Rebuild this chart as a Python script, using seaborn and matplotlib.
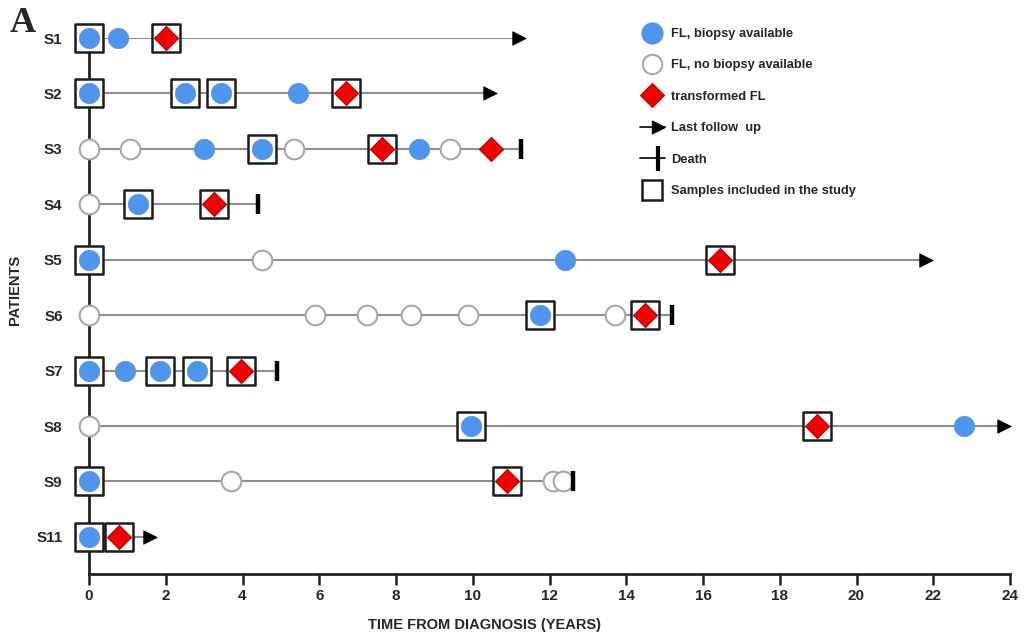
import matplotlib
matplotlib.use("Agg")
import matplotlib.pyplot as plt
import seaborn as sns
import pandas as pd
import numpy as np
from matplotlib.lines import Line2D
from matplotlib.path import Path

# ---------------- data ----------------
patients = ["S1", "S2", "S3", "S4", "S5", "S6", "S7", "S8", "S9", "S11"]
end_time = [11.2, 10.45, 11.25, 4.4, 21.8, 15.2, 4.9, 23.85, 12.6, 1.6]
end_type = ["follow", "follow", "death", "death", "follow",
            "death", "death", "follow", "death", "follow"]

biopsy_patient = ["S1", "S1", "S2", "S2", "S2", "S2", "S3", "S3", "S3", "S4",
                  "S5", "S5", "S6", "S7", "S7", "S7", "S7", "S8", "S8", "S9", "S11"]
biopsy_time = [0.0, 0.75, 0.0, 2.5, 3.45, 5.45, 3.0, 4.5, 8.6, 1.28,
               0.0, 12.4, 11.75, 0.0, 0.94, 1.85, 2.81, 9.95, 22.8, 0.0, 0.0]

nobiopsy_patient = ["S3", "S3", "S3", "S3", "S4", "S5", "S6", "S6", "S6", "S6",
                    "S6", "S6", "S8", "S9", "S9", "S9"]
nobiopsy_time = [0.0, 1.07, 5.35, 9.4, 0.0, 4.5, 0.0, 5.88, 7.24, 8.39,
                 9.87, 13.7, 0.0, 3.7, 12.08, 12.34]

tfl_patient = ["S1", "S2", "S3", "S3", "S4", "S5", "S6", "S7", "S8", "S9", "S11"]
tfl_time = [2.0, 6.7, 7.63, 10.47, 3.25, 16.43, 14.48, 3.96, 18.96, 10.9, 0.78]

sample_patient = ["S1", "S1", "S2", "S2", "S2", "S2", "S3", "S3", "S4", "S4",
                  "S5", "S5", "S6", "S6", "S7", "S7", "S7", "S7", "S8", "S8",
                  "S9", "S9", "S11", "S11"]
sample_time = [0.0, 2.0, 0.0, 2.5, 3.45, 6.7, 4.5, 7.63, 1.28, 3.25,
               0.0, 16.43, 11.75, 14.48, 0.0, 1.85, 2.81, 3.96, 9.95, 18.96,
               0.0, 10.9, 0.0, 0.78]

x_ticks = [0, 2, 4, 6, 8, 10, 12, 14, 16, 18, 20, 22, 24]

legend_labels = ["FL, biopsy available", "FL, no biopsy available", "transformed FL",
                 "Last follow  up", "Death", "Samples included in the study"]

# ---------------- style ----------------
BLUE = "#4F95EE"
RED = "#F00000"
RED_EDGE = "#B40000"
OPEN_EDGE = "#A8A8A8"
LINE_GRAY = "#8E8E8E"

sns.set_style("white")
plt.rcParams["font.family"] = ["Liberation Sans", "DejaVu Sans"]
plt.rcParams["font.weight"] = "bold"

fig = plt.figure(figsize=(10.26, 6.35), dpi=100)
ax = fig.add_axes([89 / 1026, 1 - 574 / 635, 921 / 1026, 536 / 635])

# timeline lines
for p, e in zip(patients, end_time):
    ax.plot([0, e], [p, p], color=LINE_GRAY, lw=1.5, zorder=1, solid_capstyle="butt")

# sample boxes
samp_df = pd.DataFrame({"patient": sample_patient, "time": sample_time})
sns.scatterplot(data=samp_df, x="time", y="patient", marker="s", s=400,
                facecolor="white", edgecolor="#1c1c1c", linewidth=1.8,
                ax=ax, zorder=3, clip_on=False, legend=False)

# biopsy available
bio_df = pd.DataFrame({"patient": biopsy_patient, "time": biopsy_time})
sns.scatterplot(data=bio_df, x="time", y="patient", marker="o", s=215,
                color=BLUE, edgecolor=BLUE, linewidth=0.5,
                ax=ax, zorder=4, clip_on=False, legend=False)

# no biopsy available
nob_df = pd.DataFrame({"patient": nobiopsy_patient, "time": nobiopsy_time})
sns.scatterplot(data=nob_df, x="time", y="patient", marker="o", s=200,
                facecolor="white", edgecolor=OPEN_EDGE, linewidth=1.5,
                ax=ax, zorder=4, clip_on=False, legend=False)

# transformed FL
tfl_df = pd.DataFrame({"patient": tfl_patient, "time": tfl_time})
sns.scatterplot(data=tfl_df, x="time", y="patient", marker="D", s=150,
                color=RED, edgecolor=RED_EDGE, linewidth=0.8,
                ax=ax, zorder=5, clip_on=False, legend=False)

# end markers
end_df = pd.DataFrame({"patient": patients, "time": end_time, "kind": end_type})
sns.scatterplot(data=end_df[end_df["kind"] == "follow"], x="time", y="patient",
                marker=">", s=95, color="black", edgecolor="black", linewidth=0.5,
                ax=ax, zorder=5, clip_on=False, legend=False)
sns.scatterplot(data=end_df[end_df["kind"] == "death"], x="time", y="patient",
                marker="|", s=200, color="black", linewidth=3.2,
                ax=ax, zorder=5, clip_on=False, legend=False)

# axes
ax.set_xlim(0, 24)
ax.set_ylim(len(patients) - 1 + 0.67, 0)
ax.set_xticks(x_ticks)
ax.set_xticklabels([str(t) for t in x_ticks], fontsize=11, fontweight="bold")
ax.set_yticks(range(len(patients)))
ax.set_yticklabels(patients, fontsize=11, fontweight="bold")
ax.tick_params(axis="x", bottom=True, direction="out", length=8, width=1.8,
               color="#222222", pad=3)
ax.tick_params(axis="y", left=False, length=0, pad=19)
for side in ["top", "right"]:
    ax.spines[side].set_visible(False)
for side in ["left", "bottom"]:
    ax.spines[side].set_color("#222222")
    ax.spines[side].set_linewidth(2.0)
    ax.spines[side].set_zorder(2)

ax.set_xlabel("TIME FROM DIAGNOSIS (YEARS)", fontsize=10.5, fontweight="bold")
ax.xaxis.set_label_coords((485 - 89) / 921, -(618 - 574) / 536)
ax.set_ylabel("PATIENTS", fontsize=10.5, fontweight="bold")
ax.yaxis.set_label_coords((22 - 89) / 921, (574 - 290) / 536)

fig.text(10 / 1026, 1 - 24 / 635, "A", fontsize=26, fontweight="bold",
         family=["Liberation Serif", "DejaVu Serif"], va="center", ha="left")

# legend
arrow_path = Path([(0.0, -0.5), (0.0, 0.5), (1.0, 0.0), (0.0, -0.5)],
                  [Path.MOVETO, Path.LINETO, Path.LINETO, Path.CLOSEPOLY])
bar_path = Path([(0.5, -1.0), (0.5, 1.0)], [Path.MOVETO, Path.LINETO])
h_bio = Line2D([], [], ls="none", marker="o", ms=15, mfc=BLUE, mec=BLUE)
h_nob = Line2D([], [], ls="none", marker="o", ms=14, mfc="white", mec=OPEN_EDGE, mew=1.5)
h_tfl = Line2D([], [], ls="none", marker="D", ms=12, mfc=RED, mec=RED_EDGE, mew=0.8)
h_arr = (Line2D([], [], color="black", lw=1.2),
         Line2D([], [], ls="none", marker=arrow_path, ms=18, mfc="black", mec="black"))
h_dth = (Line2D([], [], color="black", lw=1.2),
         Line2D([], [], ls="none", marker=bar_path, ms=18, mec="black", mew=3))
h_box = Line2D([], [], ls="none", marker="s", ms=15, mfc="white", mec="#1c1c1c", mew=1.8)
leg = fig.legend([h_bio, h_nob, h_tfl, h_arr, h_dth, h_box], legend_labels,
                 loc="upper left", bbox_to_anchor=(640 / 1026, 1 - 28 / 635),
                 frameon=False, fontsize=9.3, handlelength=1.9, handletextpad=0.5,
                 labelspacing=1.5, borderpad=0, borderaxespad=0)
for t in leg.get_texts():
    t.set_fontweight("bold")

fig.savefig("out.png", dpi=100, facecolor="white")
